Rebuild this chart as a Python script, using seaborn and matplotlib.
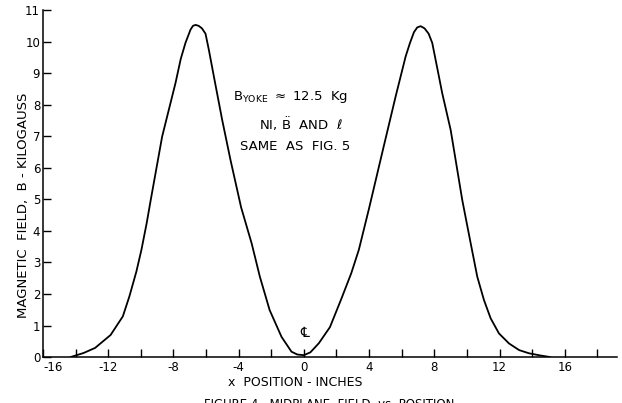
import matplotlib
matplotlib.use("Agg")
import matplotlib.pyplot as plt
import seaborn as sns
import pandas as pd

# Midplane field (inches, kilogauss)
x_pos = [-14.3, -13.5, -12.8, -11.85, -11.1, -10.7, -10.27, -9.96, -9.64, -9.4,
         -8.69, -7.87, -7.55, -7.26, -6.95, -6.8, -6.64, -6.45, -6.25, -6.03,
         -5.83, -5.52, -5.01, -4.5, -3.85, -3.2, -2.7, -2.1, -1.37, -0.76,
         -0.4, 0.0, 0.4, 0.92, 1.6, 2.3, 2.9, 3.37, 3.99, 4.8,
         5.63, 6.24, 6.5, 6.75, 6.95, 7.16, 7.4, 7.65, 7.87, 8.24,
         8.48, 9.0, 9.71, 10.23, 10.63, 11.04, 11.45, 11.96, 12.58, 13.2,
         13.8, 14.5, 15.1]
b_field = [0.0, 0.13, 0.29, 0.70, 1.29, 1.92, 2.71, 3.40, 4.24, 4.95,
           6.99, 8.69, 9.45, 9.96, 10.38, 10.5, 10.53, 10.5, 10.42, 10.25,
           9.75, 8.9, 7.52, 6.25, 4.75, 3.6, 2.55, 1.49, 0.64, 0.17,
           0.08, 0.06, 0.15, 0.44, 0.95, 1.85, 2.65, 3.4, 4.7, 6.47,
           8.27, 9.53, 9.95, 10.3, 10.45, 10.49, 10.42, 10.25, 9.96, 9.0,
           8.37, 7.2, 4.98, 3.6, 2.55, 1.81, 1.23, 0.75, 0.43, 0.22,
           0.12, 0.05, 0.0]

x_major = [-16, -12, -8, -4, 0, 4, 8, 12, 16]
x_minor = [-14, -10, -6, -2, 2, 6, 10, 14, 18]
y_ticks = list(range(0, 12))

df = pd.DataFrame({"x": x_pos, "B": b_field})

sns.set_style("ticks")
plt.rcParams["font.family"] = ["DejaVu Sans", "Noto Sans"]
plt.rcParams["mathtext.fontset"] = "dejavusans"
for key in ["text.color", "axes.labelcolor", "xtick.color", "ytick.color",
            "axes.edgecolor"]:
    plt.rcParams[key] = "black"

fig = plt.figure(figsize=(6.22, 4.03), dpi=100)
ax = fig.add_axes([0.069, 0.114, 0.923, 0.861])

sns.lineplot(data=df, x="x", y="B", ax=ax, color="black", linewidth=1.3,
             estimator=None, sort=False, solid_joinstyle="round")

ax.set_xlim(-16, 19.2)
ax.set_ylim(0, 11)
ax.set_xticks(x_major)
ax.set_xticks(x_minor, minor=True)
ax.set_yticks(y_ticks)
ax.set_xticklabels([str(v) for v in x_major], fontsize=8.5)
ax.set_yticklabels([str(v) for v in y_ticks], fontsize=8.5)
ax.get_xticklabels()[0].set_horizontalalignment("left")
ax.tick_params(which="both", direction="in", length=6, width=1, pad=3)
ax.tick_params(axis="y", pad=2)
sns.despine(ax=ax)
for s in ["left", "bottom"]:
    ax.spines[s].set_linewidth(1.1)

ax.set_xlabel("x  POSITION - INCHES", fontsize=9)
ax.xaxis.set_label_coords(0.44, -0.055)
ax.set_ylabel("")
fig.text(0.037, 0.49, "MAGNETIC  FIELD,  B - KILOGAUSS", rotation=90,
         ha="center", va="center", fontsize=9.5)

# annotation block
ax.text(-0.8, 8.25, r"B$_{\mathsf{YOKE}}$ $\approx$ 12.5  Kg", ha="center",
        va="center", fontsize=9.5)
ax.text(-0.2, 7.37, r"NI, $\ddot{\mathsf{B}}$  AND  $\ell$", ha="center",
        va="center", fontsize=9.5)
ax.text(-0.55, 6.67, "SAME  AS  FIG. 5", ha="center", va="center",
        fontsize=9.5)
ax.text(0.05, 0.75, "\u2104", ha="center", va="center", fontsize=10)

# caption, cut off by the bottom edge like the scan
fig.text(0.53, -0.004, "FIGURE 4   MIDPLANE  FIELD  vs  POSITION",
         ha="center", va="center", fontsize=8.5)

plt.savefig("out.png", dpi=100)
